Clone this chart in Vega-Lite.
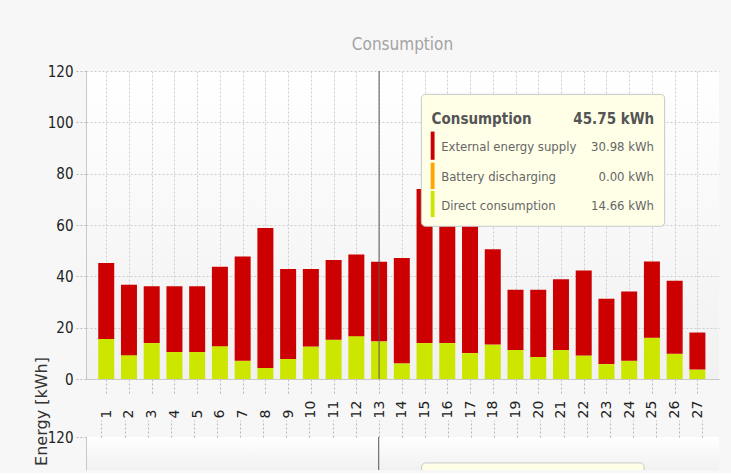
{
"$schema":"https://vega.github.io/schema/vega-lite/v6.json",
"background":"#f7f7f7",
"padding":{"left":32,"top":36,"right":13,"bottom":2},
"bounds":"flush",
"spacing":58,
"config":{
 "view":{"stroke":null,"fill":{"gradient":"linear","x1":0,"y1":0,"x2":0,"y2":1,"stops":[{"offset":0,"color":"#ffffff"},{"offset":1,"color":"#f1f1f1"}]}},
 "font":"DejaVu Sans Condensed, Liberation Sans, sans-serif",
 "axis":{"gridColor":"#cdcdcd","gridDash":[2,2],"tickColor":"#b8b8b8","tickDash":[2,2],"domainColor":"#c8c8c8","labelColor":"#222222","labelOverlap":false,"labelFont":"DejaVu Sans Condensed, Liberation Sans, sans-serif"}
},
"datasets":{"days":[
 {"day":1,"direct":15.6,"battery":0,"external":29.6},
 {"day":2,"direct":9.3,"battery":0,"external":27.4},
 {"day":3,"direct":14.0,"battery":0,"external":22.1},
 {"day":4,"direct":10.5,"battery":0,"external":25.6},
 {"day":5,"direct":10.5,"battery":0,"external":25.6},
 {"day":6,"direct":12.8,"battery":0,"external":30.9},
 {"day":7,"direct":7.1,"battery":0,"external":40.6},
 {"day":8,"direct":4.3,"battery":0,"external":54.5},
 {"day":9,"direct":7.8,"battery":0,"external":35.1},
 {"day":10,"direct":12.7,"battery":0,"external":30.2},
 {"day":11,"direct":15.3,"battery":0,"external":31.1},
 {"day":12,"direct":16.7,"battery":0,"external":31.8},
 {"day":13,"direct":14.66,"battery":0,"external":30.98},
 {"day":14,"direct":6.1,"battery":0,"external":41.0},
 {"day":15,"direct":14.0,"battery":0,"external":60.0},
 {"day":16,"direct":14.0,"battery":0,"external":52.0},
 {"day":17,"direct":10.1,"battery":0,"external":51.9},
 {"day":18,"direct":13.4,"battery":0,"external":37.2},
 {"day":19,"direct":11.3,"battery":0,"external":23.5},
 {"day":20,"direct":8.6,"battery":0,"external":26.2},
 {"day":21,"direct":11.3,"battery":0,"external":27.6},
 {"day":22,"direct":9.2,"battery":0,"external":33.1},
 {"day":23,"direct":5.8,"battery":0,"external":25.5},
 {"day":24,"direct":7.1,"battery":0,"external":27.0},
 {"day":25,"direct":16.1,"battery":0,"external":29.7},
 {"day":26,"direct":9.8,"battery":0,"external":28.5},
 {"day":27,"direct":3.7,"battery":0,"external":14.4}
]},
"vconcat":[
 {"width":633,"height":308,
  "title":{"text":"Consumption","fontSize":17,"fontWeight":"normal","color":"#a3a3a3","font":"DejaVu Sans Condensed, Liberation Sans, sans-serif","anchor":"middle","offset":10},
  "resolve":{"axis":{"x":"independent","y":"independent"}},
  "layer":[
   {"data":{"name":"days"},"transform":[{"fold":["direct","battery","external"],"as":["series","kwh"]}],
    "mark":{"type":"bar","size":16},
    "encoding":{
     "x":{"field":"day","type":"quantitative","scale":{"domain":[0.33,27.73],"nice":false,"zero":false},
      "axis":{"title":null,"values":[1,2,3,4,5,6,7,8,9,10,11,12,13,14,15,16,17,18,19,20,21,22,23,24,25,26,27],"format":"d","labelAngle":-90,"labelAlign":"left","labelBaseline":"middle","labelPadding":23,"labelFont":"DejaVu Sans","labelFontSize":14,"tickSize":16,"labelOverlap":false,"labelFlush":false,"labelSeparation":0}},
     "y":{"field":"kwh","type":"quantitative","stack":"zero","scale":{"domain":[0,120],"nice":false},
      "axis":{"title":null,"values":[0,20,40,60,80,100,120],"labelFontSize":15,"labelPadding":3,"tickSize":10}},
     "color":{"field":"series","type":"nominal","scale":{"domain":["external","battery","direct"],"range":["#cc0000","#ffa500","#cce600"]},"legend":null},
     "order":{"field":"series","sort":"ascending"}
    }},
   {"data":{"values":[{}]},"mark":{"type":"rule","color":"#555555","strokeWidth":1},"encoding":{"x":{"datum":13,"type":"quantitative","axis":null}}},
   {"data":{"values":[{}]},"mark":{"type":"rect","fill":"#000000","opacity":0.12,"cornerRadius":4,"xOffset":2,"yOffset":2},
    "encoding":{"x":{"datum":14.86,"type":"quantitative","axis":null},"x2":{"datum":25.56},"y":{"datum":110.9,"type":"quantitative","axis":null},"y2":{"datum":59.5}}},
   {"data":{"values":[{}]},"mark":{"type":"rect","fill":"#ffffe8","stroke":"#c8c8c8","cornerRadius":4},
    "encoding":{"x":{"datum":14.86,"type":"quantitative","axis":null},"x2":{"datum":25.56},"y":{"datum":110.9,"type":"quantitative","axis":null},"y2":{"datum":59.5}}},
   {"data":{"values":[{}]},"mark":{"type":"rect","fill":"#cc0000"},
    "encoding":{"x":{"datum":15.27,"type":"quantitative","axis":null},"x2":{"datum":15.44},"y":{"datum":96.4,"type":"quantitative","axis":null},"y2":{"datum":85.4}}},
   {"data":{"values":[{}]},"mark":{"type":"rect","fill":"#ffa500"},
    "encoding":{"x":{"datum":15.27,"type":"quantitative","axis":null},"x2":{"datum":15.44},"y":{"datum":84.3,"type":"quantitative","axis":null},"y2":{"datum":74.0}}},
   {"data":{"values":[{}]},"mark":{"type":"rect","fill":"#cce600"},
    "encoding":{"x":{"datum":15.27,"type":"quantitative","axis":null},"x2":{"datum":15.44},"y":{"datum":73.3,"type":"quantitative","axis":null},"y2":{"datum":63.1}}},
   {"data":{"values":[{}]},"mark":{"type":"text","text":"Consumption","fontSize":15,"fontWeight":"bold","color":"#555555","align":"left","baseline":"middle"},
    "encoding":{"x":{"datum":15.31,"type":"quantitative","axis":null},"y":{"datum":101.3,"type":"quantitative","axis":null}}},
   {"data":{"values":[{}]},"mark":{"type":"text","text":"45.75 kWh","fontSize":15,"fontWeight":"bold","color":"#555555","align":"right","baseline":"middle"},
    "encoding":{"x":{"datum":25.1,"type":"quantitative","axis":null},"y":{"datum":101.3,"type":"quantitative","axis":null}}},
   {"data":{"values":[{}]},"mark":{"type":"text","text":"External energy supply","fontSize":13,"color":"#666666","align":"left","baseline":"middle"},
    "encoding":{"x":{"datum":15.73,"type":"quantitative","axis":null},"y":{"datum":90.3,"type":"quantitative","axis":null}}},
   {"data":{"values":[{}]},"mark":{"type":"text","text":"Battery discharging","fontSize":13,"color":"#666666","align":"left","baseline":"middle"},
    "encoding":{"x":{"datum":15.73,"type":"quantitative","axis":null},"y":{"datum":78.6,"type":"quantitative","axis":null}}},
   {"data":{"values":[{}]},"mark":{"type":"text","text":"Direct consumption","fontSize":13,"color":"#666666","align":"left","baseline":"middle"},
    "encoding":{"x":{"datum":15.73,"type":"quantitative","axis":null},"y":{"datum":67.5,"type":"quantitative","axis":null}}},
   {"data":{"values":[{}]},"mark":{"type":"text","text":"30.98 kWh","fontSize":13,"color":"#666666","align":"right","baseline":"middle"},
    "encoding":{"x":{"datum":25.09,"type":"quantitative","axis":null},"y":{"datum":90.3,"type":"quantitative","axis":null}}},
   {"data":{"values":[{}]},"mark":{"type":"text","text":"0.00 kWh","fontSize":13,"color":"#666666","align":"right","baseline":"middle"},
    "encoding":{"x":{"datum":25.09,"type":"quantitative","axis":null},"y":{"datum":78.6,"type":"quantitative","axis":null}}},
   {"data":{"values":[{}]},"mark":{"type":"text","text":"14.66 kWh","fontSize":13,"color":"#666666","align":"right","baseline":"middle"},
    "encoding":{"x":{"datum":25.09,"type":"quantitative","axis":null},"y":{"datum":67.5,"type":"quantitative","axis":null}}}
  ]},
 {"width":633,"height":33,
  "resolve":{"axis":{"x":"independent","y":"independent"}},
  "layer":[
   {"data":{"values":[{}]},"mark":{"type":"rect","fill":"#ffffe8","stroke":"#c8c8c8","cornerRadius":4,"clip":true},
    "encoding":{
     "x":{"datum":14.86,"type":"quantitative","scale":{"domain":[0.33,27.73],"nice":false,"zero":false},
      "axis":{"title":null,"orient":"top","values":[1,2,3,4,5,6,7,8,9,10,11,12,13,14,15,16,17,18,19,20,21,22,23,24,25,26,27],"labels":false,"tickSize":17,"domain":false}},
     "x2":{"datum":24.49},
     "y":{"datum":108.2,"type":"quantitative","scale":{"domain":[105,120],"nice":false,"zero":false},
      "axis":{"values":[120],"labelFontSize":15,"labelPadding":3,"tickSize":10,"title":"Energy [kWh]","titleFont":"DejaVu Sans","titleFontSize":16,"titleFontWeight":"normal","titleColor":"#333333","titleAngle":270,"titleAlign":"center","titleBaseline":"middle","titleX":-45,"titleY":-26}},
     "y2":{"datum":100}}},
   {"data":{"values":[{}]},"mark":{"type":"rule","color":"#555555","strokeWidth":1},"encoding":{"x":{"datum":13,"type":"quantitative","axis":null}}}
  ]}
]
}
